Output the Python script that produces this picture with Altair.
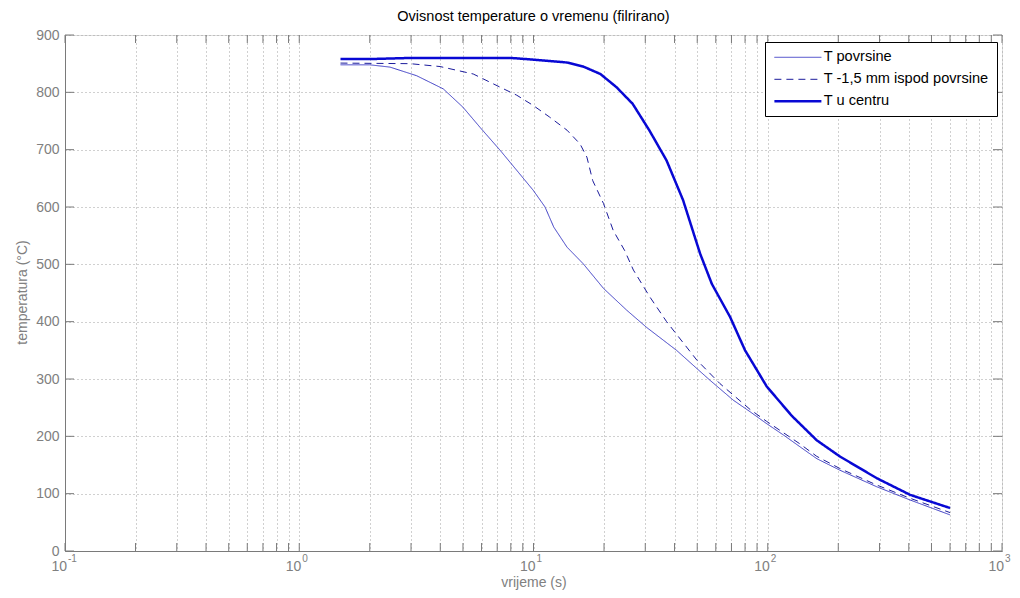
import altair as alt
import pandas as pd

# ---- data ----
series_names = ["T povrsine", "T -1,5 mm ispod povrsine", "T u centru"]

t_povrsine = [1.5, 2.0, 2.44, 3.17, 4.12, 5.0, 5.91, 7.2, 8.48, 9.98, 11.2, 12.2, 13.9, 16.3,
              19.9, 25.0, 30.4, 40.8, 56.6, 71.3, 84, 99, 117, 137, 162, 203, 292, 405, 600]
T_povrsine = [848, 848, 844, 829, 806, 774, 739, 699, 664, 629, 600, 565, 530, 501,
              458, 420, 390, 350, 298, 263, 243, 222, 202, 182, 161, 141, 112, 89, 63]

t_ispod = [1.5, 2.97, 3.99, 5.53, 7.2, 8.48, 9.98, 11.7, 13.9, 15.8, 16.9, 17.9, 19.9, 21.9,
           24.5, 26.7, 31.4, 37, 49.8, 62.5, 84, 99, 137, 162, 203, 292, 405, 600]
T_ispod = [851, 850, 845, 832, 809, 795, 777, 757, 734, 710, 687, 646, 606, 559,
           524, 490, 443, 400, 333, 292, 247, 226, 187, 165, 144, 115, 92, 67]

t_centar = [1.5, 2.0, 3.0, 5.0, 8.0, 10, 13.9, 16.3, 19.3, 22.6, 26.5, 31.3, 37.0, 43.5,
            51.4, 57.7, 69.1, 80, 99, 126.5, 162, 203, 292, 405, 600]
T_centar = [858, 858, 860, 860, 860, 857, 852, 845, 832, 809, 780, 733, 681, 612,
            519, 466, 408, 350, 287, 236, 193, 165, 127, 98, 75]

x_grid_values = [m * 10 ** k for k in range(-1, 3) for m in range(1, 10)] + [1000]
y_values = [0, 100, 200, 300, 400, 500, 600, 700, 800, 900]
decades = [0.1, 1, 10, 100, 1000]
decade_base = ["10", "10", "10", "10", "10"]
decade_exp = ["-1", "0", "1", "2", "3"]

# ---- tables ----
rows = []
for name, ts, Ts in zip(series_names, [t_povrsine, t_ispod, t_centar], [T_povrsine, T_ispod, T_centar]):
    for a, b in zip(ts, Ts):
        rows.append({"serija": name, "t": a, "T": b})
df = pd.DataFrame(rows)
xt_df = pd.DataFrame({"v": x_grid_values})
yt_df = pd.DataFrame({"v": y_values})
lab_df = pd.DataFrame({"v": decades, "base": decade_base, "exp": decade_exp})

W, H = 937, 516
FONT = "Liberation Sans"
GRAY = "#808080"
FRAME = "#7a7a7a"
GRID = "#a0a0a0"

x_scale = alt.Scale(type="log", domain=[0.1, 1000], nice=False)
y_scale = alt.Scale(domain=[0, 900], nice=False)

x_axis = alt.Axis(values=x_grid_values, labels=False, ticks=False, grid=True,
                  gridDash=[1, 3], gridColor=GRID, gridWidth=1,
                  domainColor=FRAME, title="vrijeme (s)", titleY=31,
                  titleBaseline="middle", titleFont=FONT, titleFontSize=14,
                  titleFontWeight="normal", titleColor=GRAY)
y_axis = alt.Axis(values=y_values, ticks=False, grid=True, gridDash=[1, 3],
                  gridColor=GRID, gridWidth=1, domainColor=FRAME,
                  labelFont=FONT, labelFontSize=14, labelColor=GRAY, labelPadding=6,
                  title="temperatura (°C)", titleFont=FONT, titleFontSize=14,
                  titleFontWeight="normal", titleColor=GRAY, titleAngle=270,
                  titleAlign="center", titleBaseline="middle", titleX=-43, titleY=257)

legend = alt.Legend(
    title=None, orient="none", legendX=700, legendY=7,
    symbolType="M-4,0L4,0", symbolSize=138, symbolOffset=17.6,
    symbolStrokeWidth=alt.ExprRef(expr="datum.value === 'T u centru' ? 2.5 : 1"),
    strokeColor="black", fillColor="white", padding=8,
    labelFont=FONT, labelFontSize=14.6, labelColor="black", labelOffset=18.6,
    labelLimit=400, rowPadding=7, cornerRadius=0,
)

lines = alt.Chart(df).mark_line(clip=True).encode(
    x=alt.X("t:Q", scale=x_scale, axis=x_axis),
    y=alt.Y("T:Q", scale=y_scale, axis=y_axis),
    color=alt.Color("serija:N", scale=alt.Scale(domain=series_names,
                                                range=["#3a3ac4", "#1c1c9c", "#0808d4"]),
                    legend=legend),
    strokeDash=alt.StrokeDash("serija:N", scale=alt.Scale(domain=series_names,
                                                          range=[[1, 0], [7, 5], [1, 0]]),
                              legend=legend),
    strokeWidth=alt.condition(alt.datum.serija == "T u centru", alt.value(2.5), alt.value(1)),
)

xb = alt.Chart(xt_df).mark_rule(color=FRAME).encode(
    x=alt.X("v:Q", scale=x_scale, axis=x_axis), y=alt.value(H), y2=alt.value(H - 8))
xtp = alt.Chart(xt_df).mark_rule(color=FRAME).encode(
    x=alt.X("v:Q", scale=x_scale, axis=x_axis), y=alt.value(0), y2=alt.value(8))
yl = alt.Chart(yt_df).mark_rule(color=FRAME).encode(
    y=alt.Y("v:Q", scale=y_scale, axis=y_axis), x=alt.value(0), x2=alt.value(9))
yr = alt.Chart(yt_df).mark_rule(color=FRAME).encode(
    y=alt.Y("v:Q", scale=y_scale, axis=y_axis), x=alt.value(W), x2=alt.value(W - 9))

base_lab = alt.Chart(lab_df).mark_text(align="right", baseline="middle", dx=2,
                                       font=FONT, fontSize=14, color=GRAY).encode(
    x=alt.X("v:Q", scale=x_scale, axis=x_axis), y=alt.value(H + 16), text="base:N")
exp_lab = alt.Chart(lab_df).mark_text(align="left", baseline="middle", dx=3,
                                      font=FONT, fontSize=10, color=GRAY).encode(
    x=alt.X("v:Q", scale=x_scale, axis=x_axis), y=alt.value(H + 8), text="exp:N")

chart = alt.layer(lines, xb, xtp, yl, yr, base_lab, exp_lab).properties(
    width=W, height=H,
    title=alt.TitleParams("Ovisnost temperature o vremenu (filrirano)", font=FONT,
                          fontSize=14.5, fontWeight="normal", color="black",
                          anchor="middle", frame="group", baseline="bottom",
                          offset=11, dy=21),
    autosize=alt.AutoSizeParams(type="none"),
    padding={"left": 57, "top": 27, "right": 10, "bottom": 45},
).configure_view(stroke=FRAME, strokeWidth=1).configure(background="white")

chart.save("out.html", embed_options={"renderer": "svg", "actions": False})
